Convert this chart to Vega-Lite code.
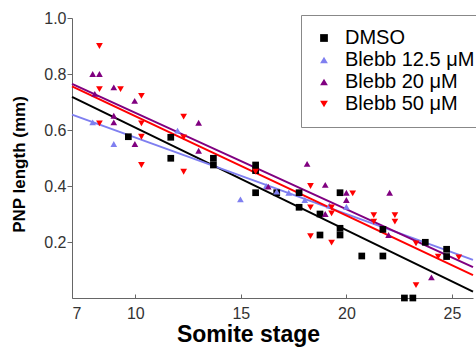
{
  "$schema": "https://vega.github.io/schema/vega-lite/v6.json",
  "width": 401,
  "height": 280,
  "autosize": {"type": "none"},
  "padding": {"left": 72, "top": 18, "right": 3, "bottom": 51},
  "background": "white",
  "config": {
    "view": {"stroke": null},
    "font": "Liberation Sans",
    "axis": {"grid": false, "domainColor": "#666", "tickColor": "#666", "labelColor": "#333", "labelFont": "Liberation Sans", "labelFontSize": 16, "titleFont": "Liberation Sans", "titleFontWeight": "bold", "titleColor": "black"}
  },
  "datasets": {
    "pts": [
      {"s": 9.67, "len": 0.576, "g": "DMSO"},
      {"s": 11.68, "len": 0.574, "g": "DMSO"},
      {"s": 11.68, "len": 0.499, "g": "DMSO"},
      {"s": 13.7, "len": 0.499, "g": "DMSO"},
      {"s": 13.7, "len": 0.475, "g": "DMSO"},
      {"s": 15.7, "len": 0.475, "g": "DMSO"},
      {"s": 15.7, "len": 0.455, "g": "DMSO"},
      {"s": 15.7, "len": 0.376, "g": "DMSO"},
      {"s": 16.7, "len": 0.376, "g": "DMSO"},
      {"s": 17.76, "len": 0.376, "g": "DMSO"},
      {"s": 17.76, "len": 0.324, "g": "DMSO"},
      {"s": 18.75, "len": 0.3, "g": "DMSO"},
      {"s": 18.75, "len": 0.225, "g": "DMSO"},
      {"s": 19.7, "len": 0.376, "g": "DMSO"},
      {"s": 19.7, "len": 0.249, "g": "DMSO"},
      {"s": 19.7, "len": 0.225, "g": "DMSO"},
      {"s": 20.73, "len": 0.15, "g": "DMSO"},
      {"s": 21.73, "len": 0.245, "g": "DMSO"},
      {"s": 21.73, "len": 0.15, "g": "DMSO"},
      {"s": 22.75, "len": 0.0, "g": "DMSO"},
      {"s": 23.15, "len": 0.0, "g": "DMSO"},
      {"s": 23.74, "len": 0.199, "g": "DMSO"},
      {"s": 24.75, "len": 0.174, "g": "DMSO"},
      {"s": 24.75, "len": 0.148, "g": "DMSO"},
      {"s": 7.98, "len": 0.627, "g": "Blebb 12.5 μM"},
      {"s": 8.98, "len": 0.55, "g": "Blebb 12.5 μM"},
      {"s": 12.0, "len": 0.598, "g": "Blebb 12.5 μM"},
      {"s": 14.98, "len": 0.352, "g": "Blebb 12.5 μM"},
      {"s": 16.2, "len": 0.4, "g": "Blebb 12.5 μM"},
      {"s": 16.7, "len": 0.38, "g": "Blebb 12.5 μM"},
      {"s": 17.27, "len": 0.376, "g": "Blebb 12.5 μM"},
      {"s": 18.03, "len": 0.35, "g": "Blebb 12.5 μM"},
      {"s": 19.2, "len": 0.33, "g": "Blebb 12.5 μM"},
      {"s": 20.0, "len": 0.326, "g": "Blebb 12.5 μM"},
      {"s": 7.98, "len": 0.8, "g": "Blebb 20 μM"},
      {"s": 8.3, "len": 0.8, "g": "Blebb 20 μM"},
      {"s": 8.08, "len": 0.729, "g": "Blebb 20 μM"},
      {"s": 8.98, "len": 0.752, "g": "Blebb 20 μM"},
      {"s": 8.98, "len": 0.651, "g": "Blebb 20 μM"},
      {"s": 8.98, "len": 0.627, "g": "Blebb 20 μM"},
      {"s": 9.97, "len": 0.704, "g": "Blebb 20 μM"},
      {"s": 9.98, "len": 0.55, "g": "Blebb 20 μM"},
      {"s": 13.0, "len": 0.626, "g": "Blebb 20 μM"},
      {"s": 13.0, "len": 0.526, "g": "Blebb 20 μM"},
      {"s": 16.3, "len": 0.398, "g": "Blebb 20 μM"},
      {"s": 18.14, "len": 0.479, "g": "Blebb 20 μM"},
      {"s": 19.0, "len": 0.404, "g": "Blebb 20 μM"},
      {"s": 19.0, "len": 0.3, "g": "Blebb 20 μM"},
      {"s": 20.0, "len": 0.376, "g": "Blebb 20 μM"},
      {"s": 20.0, "len": 0.35, "g": "Blebb 20 μM"},
      {"s": 22.05, "len": 0.376, "g": "Blebb 20 μM"},
      {"s": 22.0, "len": 0.225, "g": "Blebb 20 μM"},
      {"s": 24.03, "len": 0.074, "g": "Blebb 20 μM"},
      {"s": 8.3, "len": 0.9, "g": "Blebb 50 μM"},
      {"s": 8.3, "len": 0.746, "g": "Blebb 50 μM"},
      {"s": 9.3, "len": 0.746, "g": "Blebb 50 μM"},
      {"s": 10.29, "len": 0.722, "g": "Blebb 50 μM"},
      {"s": 8.3, "len": 0.624, "g": "Blebb 50 μM"},
      {"s": 10.29, "len": 0.624, "g": "Blebb 50 μM"},
      {"s": 10.29, "len": 0.576, "g": "Blebb 50 μM"},
      {"s": 10.29, "len": 0.475, "g": "Blebb 50 μM"},
      {"s": 12.29, "len": 0.648, "g": "Blebb 50 μM"},
      {"s": 12.29, "len": 0.574, "g": "Blebb 50 μM"},
      {"s": 12.29, "len": 0.451, "g": "Blebb 50 μM"},
      {"s": 15.7, "len": 0.451, "g": "Blebb 50 μM"},
      {"s": 18.3, "len": 0.4, "g": "Blebb 50 μM"},
      {"s": 18.3, "len": 0.324, "g": "Blebb 50 μM"},
      {"s": 18.3, "len": 0.221, "g": "Blebb 50 μM"},
      {"s": 19.3, "len": 0.324, "g": "Blebb 50 μM"},
      {"s": 19.3, "len": 0.302, "g": "Blebb 50 μM"},
      {"s": 19.3, "len": 0.198, "g": "Blebb 50 μM"},
      {"s": 20.3, "len": 0.374, "g": "Blebb 50 μM"},
      {"s": 21.3, "len": 0.296, "g": "Blebb 50 μM"},
      {"s": 21.3, "len": 0.273, "g": "Blebb 50 μM"},
      {"s": 22.3, "len": 0.296, "g": "Blebb 50 μM"},
      {"s": 22.3, "len": 0.273, "g": "Blebb 50 μM"},
      {"s": 23.3, "len": 0.195, "g": "Blebb 50 μM"},
      {"s": 23.3, "len": 0.046, "g": "Blebb 50 μM"},
      {"s": 24.35, "len": 0.148, "g": "Blebb 50 μM"},
      {"s": 25.33, "len": 0.145, "g": "Blebb 50 μM"}
    ],
    "fits": [
      {"s": 7, "len": 0.718, "g": "DMSO"},
      {"s": 26, "len": 0.023, "g": "DMSO"},
      {"s": 7, "len": 0.655, "g": "Blebb 12.5 μM"},
      {"s": 26, "len": 0.136, "g": "Blebb 12.5 μM"},
      {"s": 7, "len": 0.765, "g": "Blebb 20 μM"},
      {"s": 26, "len": 0.11, "g": "Blebb 20 μM"},
      {"s": 7, "len": 0.756, "g": "Blebb 50 μM"},
      {"s": 26, "len": 0.082, "g": "Blebb 50 μM"}
    ]
  },
  "layer": [
    {
      "data": {"name": "fits"},
      "mark": {"type": "line", "strokeWidth": 2},
      "encoding": {
        "x": {"field": "s", "type": "quantitative"},
        "y": {"field": "len", "type": "quantitative"},
        "stroke": {
          "field": "g", "type": "nominal", "legend": null,
          "scale": {"domain": ["Blebb 50 μM", "Blebb 20 μM", "Blebb 12.5 μM", "DMSO"], "range": ["#ff0000", "#800080", "#7f7ff0", "#000000"]}
        }
      }
    },
    {
      "data": {"name": "pts"},
      "mark": {"type": "point", "filled": true, "opacity": 1, "size": 45},
      "encoding": {
        "x": {
          "field": "s", "type": "quantitative",
          "scale": {"domain": [7, 26], "nice": false, "zero": false},
          "axis": {"values": [7, 10, 15, 20, 25], "tickSize": -4, "labelPadding": 11, "title": "Somite stage", "titleFontSize": 23, "titleX": 176, "titleY": 43, "titleBaseline": "alphabetic", "titleAnchor": "middle", "titleAlign": "center"}
        },
        "y": {
          "field": "len", "type": "quantitative",
          "scale": {"domain": [0, 1], "nice": false},
          "axis": {"values": [0.2, 0.4, 0.6, 0.8, 1.0], "format": ".1f", "tickSize": 5, "labelPadding": 1, "title": "PNP length (mm)", "titleFontSize": 17, "titleX": -61, "titleY": 146, "titleBaseline": "top", "titleAlign": "center", "titleAngle": 270}
        },
        "color": {
          "field": "g", "type": "nominal",
          "scale": {"domain": ["DMSO", "Blebb 12.5 μM", "Blebb 20 μM", "Blebb 50 μM"], "range": ["#000000", "#7f7ff0", "#800080", "#ff0000"]},
          "legend": {"orient": "none", "legendX": 229, "legendY": -3, "title": null, "padding": 13, "strokeColor": "#888", "fillColor": "white", "labelFontSize": 20, "labelColor": "black", "labelOffset": 11, "symbolSize": 60, "rowPadding": 2}
        },
        "shape": {
          "field": "g", "type": "nominal",
          "scale": {"domain": ["DMSO", "Blebb 12.5 μM", "Blebb 20 μM", "Blebb 50 μM"], "range": ["square", "triangle-up", "triangle-up", "triangle-down"]}
        }
      }
    }
  ]
}
